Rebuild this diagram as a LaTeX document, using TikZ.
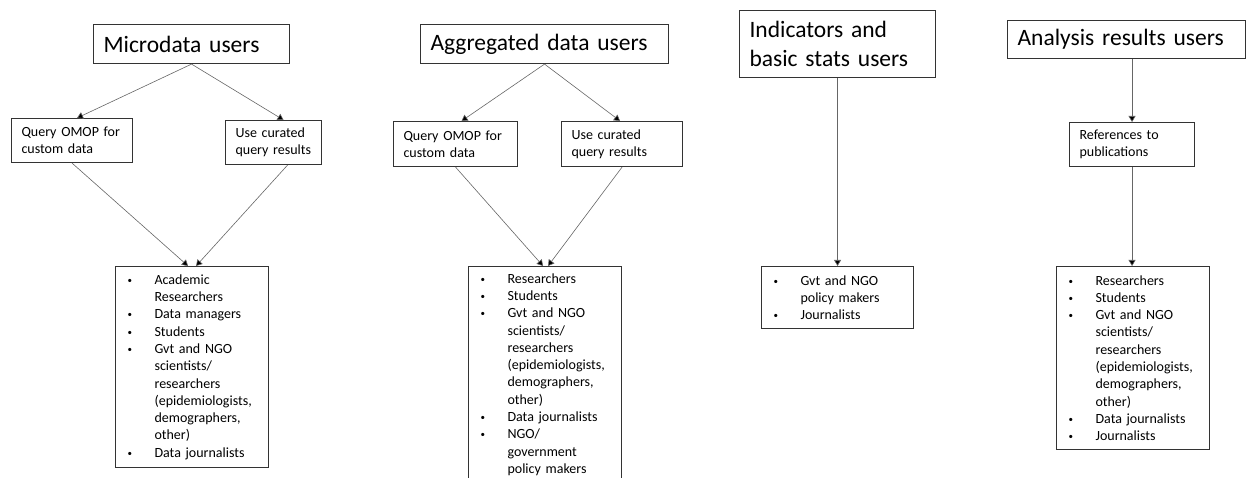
\documentclass[tikz,border=0pt]{standalone}
\usepackage{fontspec}
\setmainfont{Carlito}
\usetikzlibrary{arrows.meta}
\newcommand{\bitem}[1]{\makebox[37pt][l]{\hspace{10pt}\raisebox{1pt}{\fontsize{9}{9}\selectfont\textbullet}}#1}
\newcommand{\bcont}[1]{\makebox[37pt]{}#1}
\tikzset{
  headbox/.style={draw=black!80, line width=1.1pt, anchor=north west, align=left,
    inner xsep=10pt, inner ysep=0pt, font=\fontsize{23.5}{29}\selectfont},
  usebox/.style={draw=black!80, line width=1.1pt, anchor=north west, align=left,
    inner xsep=10pt, inner ysep=0pt, font=\fontsize{14}{17.3}\selectfont},
  listbox/.style={draw=black!80, line width=1.1pt, anchor=north west, align=left,
    inner xsep=2pt, inner ysep=0pt, font=\fontsize{14}{17.3}\selectfont},
  link/.style={draw=black!60, line width=0.6pt,
    -{Triangle[length=6pt,width=7pt,fill=black]}},
}
\begin{document}
\begin{tikzpicture}[x=1pt, y=-1pt]
      \useasboundingbox (0,0) rectangle (1247,478);
      \def\Top{266}

      \node[headbox, text width=176pt, minimum height=39pt] (micro) at (93,24) {Microdata users};
      \node[headbox, text width=228pt, minimum height=39pt] (aggr) at (420,24) {Aggregated data users};
      \node[headbox, text width=176pt, minimum height=67pt] (indic) at (739,10) {Indicators and\\basic stats users};
      \node[headbox, text width=218pt, minimum height=38pt] (anal) at (1007,20) {Analysis results users};

      \node[usebox, text width=101pt, minimum height=44pt] (query1) at (11,118) {Query OMOP for\\custom data};
      \node[usebox, text width=76pt, minimum height=44pt] (cur1) at (225,120) {Use curated\\query results};
      \node[usebox, text width=104pt, minimum height=45pt] (query2) at (393,121) {Query OMOP for\\custom data};
      \node[usebox, text width=101pt, minimum height=45pt] (cur2) at (561,121) {Use curated\\query results};
      \node[usebox, text width=105pt, minimum height=44pt] (pubs) at (1069,122) {References to\\publications};

      \node[listbox, text width=149pt, minimum height=201pt] (list1) at (115,\Top) {%
        \bitem{Academic}\\ \bcont{Researchers}\\ \bitem{Data managers}\\ \bitem{Students}\\
        \bitem{Gvt and NGO}\\ \bcont{scientists/}\\ \bcont{researchers}\\ \bcont{(epidemiologists,}\\
        \bcont{demographers,}\\ \bcont{other)}\\ \bitem{Data journalists}};
      \node[listbox, text width=149pt, minimum height=216pt] (list2) at (468,\Top) {%
        \bitem{Researchers}\\ \bitem{Students}\\ \bitem{Gvt and NGO}\\ \bcont{scientists/}\\
        \bcont{researchers}\\ \bcont{(epidemiologists,}\\ \bcont{demographers,}\\ \bcont{other)}\\
        \bitem{Data journalists}\\ \bitem{NGO/}\\ \bcont{government}\\ \bcont{policy makers}};
      \node[listbox, text width=148pt, minimum height=62pt] (list3) at (761,\Top) {%
        \bitem{Gvt and NGO}\\ \bcont{policy makers}\\ \bitem{Journalists}};
      \node[listbox, text width=149pt, minimum height=183pt] (list4) at (1056,\Top) {%
        \bitem{Researchers}\\ \bitem{Students}\\ \bitem{Gvt and NGO}\\ \bcont{scientists/}\\
        \bcont{researchers}\\ \bcont{(epidemiologists,}\\ \bcont{demographers,}\\ \bcont{other)}\\
        \bitem{Data journalists}\\ \bitem{Journalists}};

      \draw[link] (micro.south) -- ([xshift=5pt]query1.north);
      \draw[link] (micro.south) -- ([xshift=10pt]cur1.north);
      \draw[link] (query1.south) -- ([xshift=-4pt]list1.north);
      \draw[link] ([xshift=14pt]cur1.south) -- ([xshift=4pt]list1.north);

      \draw[link] (aggr.south) -- ([xshift=6pt]query2.north);
      \draw[link] (aggr.south) -- ([xshift=-2pt]cur2.north);
      \draw[link] (query2.south) -- ([xshift=-2pt]list2.north);
      \draw[link] (cur2.south) -- ([xshift=3pt]list2.north);

      \draw[link] (indic.south) -- (list3.north);

      \draw[link] (anal.south -| pubs.north) -- (pubs.north);
      \draw[link] (pubs.south) -- (pubs.south |- list4.north);
\end{tikzpicture}
\end{document}
